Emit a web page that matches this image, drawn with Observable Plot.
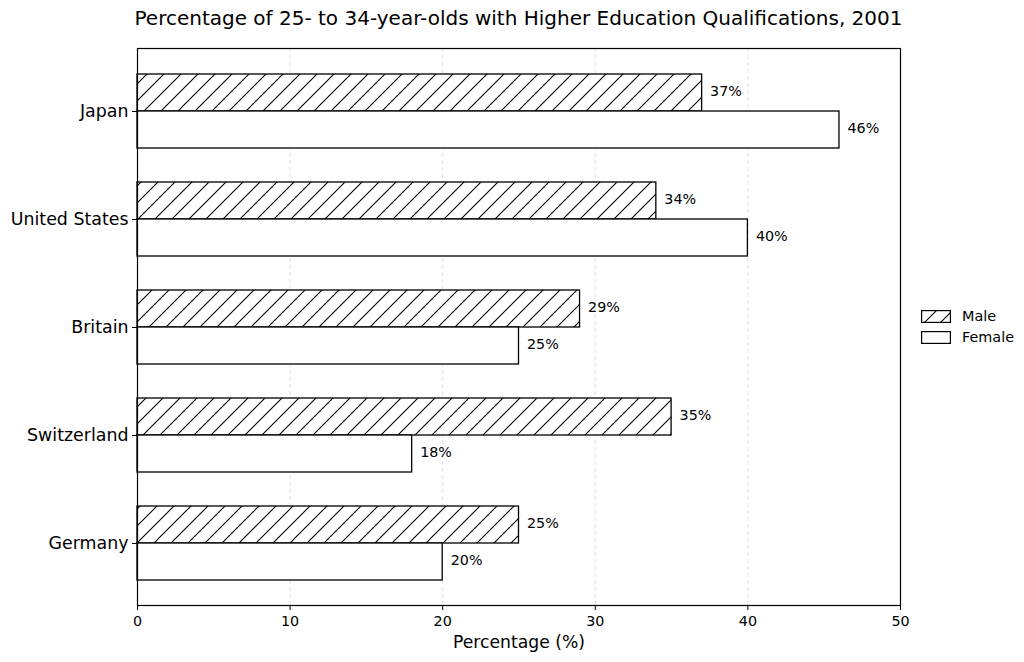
<!DOCTYPE html>
<html><head><meta charset="utf-8">
<script src="https://cdn.jsdelivr.net/npm/d3@7"></script>
<script src="https://cdn.jsdelivr.net/npm/@observablehq/plot@0.6"></script>
<style>
body{margin:0;background:#fff;font-family:"DejaVu Sans",sans-serif;color:#000;}
#wrap{position:relative;width:1024px;height:662px;overflow:hidden;}
#title{position:absolute;left:0;top:6px;width:1037px;text-align:center;font-size:20px;line-height:24px;white-space:nowrap;}
#chart{position:absolute;left:0;top:0;}
.leg{position:absolute;left:921px;font-size:14.4px;line-height:16px;display:flex;align-items:center;}
.leg span{margin-left:11px;}
</style></head><body>
<div id="wrap">
<svg width="0" height="0" style="position:absolute"><defs>
<pattern id="hatch" patternUnits="userSpaceOnUse" width="17" height="17">
<rect width="17" height="17" fill="white"/>
<path d="M0,17L17,0M-4,4L4,-4M13,21L21,13" stroke="black" stroke-width="1.1"/>
</pattern>
<pattern id="hatchL" patternUnits="userSpaceOnUse" width="16" height="16">
<rect width="16" height="16" fill="white"/>
<path d="M0,16L16,0M-4,4L4,-4M12,20L20,12" stroke="black" stroke-width="1.1"/>
</pattern>
</defs></svg>
<div id="chart"></div>
<div id="title">Percentage of 25- to 34-year-olds with Higher Education Qualifications, 2001</div>
<div class="leg" style="top:308px"><svg width="30" height="13"><rect x="0.6" y="0.6" width="28.8" height="11.8" fill="url(#hatchL)" stroke="black" stroke-width="1.2"/></svg><span>Male</span></div>
<div class="leg" style="top:329px"><svg width="30" height="13"><rect x="0.6" y="0.6" width="28.8" height="11.8" fill="white" stroke="black" stroke-width="1.2"/></svg><span>Female</span></div>
</div>
<script>
const countries = ["Japan", "United States", "Britain", "Switzerland", "Germany"];
const maleValues = [37, 34, 29, 35, 25];
const femaleValues = [46, 40, 25, 18, 20];
const xTicks = [0, 10, 20, 30, 40, 50];
const gridTicks = [10, 20, 30, 40];

const maleRows = countries.map((c, i) => ({country: c, value: maleValues[i]}));
const femaleRows = countries.map((c, i) => ({country: c, value: femaleValues[i]}));

const chart = Plot.plot({
  width: 1024,
  height: 662,
  marginLeft: 137,
  marginRight: 124,
  marginTop: 48,
  marginBottom: 57,
  style: {fontFamily: "DejaVu Sans", color: "black", background: "white"},
  x: {domain: [0, 50], label: null},
  y: {domain: countries, paddingInner: 0.317, paddingOuter: 0.23, label: null},
  marks: [
    Plot.gridX(gridTicks, {stroke: "#bbb", strokeOpacity: 0.6, strokeDasharray: "4,3", strokeWidth: 0.8}),
    Plot.barX(maleRows, {x: "value", y: "country", fill: "url(#hatch)", stroke: "black", strokeWidth: 1.3, insetBottom: 37}),
    Plot.barX(femaleRows, {x: "value", y: "country", fill: "white", stroke: "black", strokeWidth: 1.3, insetTop: 37}),
    Plot.text(maleRows, {x: "value", y: "country", text: d => d.value + "%", dx: 8, dy: -20, textAnchor: "start", fontSize: 14.3, fill: "black"}),
    Plot.text(femaleRows, {x: "value", y: "country", text: d => d.value + "%", dx: 8, dy: 17, textAnchor: "start", fontSize: 14.3, fill: "black"}),
    Plot.axisX({ticks: xTicks, tickSize: 5, tickPadding: 5, fontSize: 14.3, label: "Percentage (%)", labelAnchor: "center", labelArrow: "none", labelOffset: 42}),
    Plot.axisY({tickSize: 5, tickPadding: 4, fontSize: 17.4, label: null}),
    Plot.frame({stroke: "black", strokeWidth: 1.2})
  ]
});
document.getElementById("chart").appendChild(chart);
chart.querySelectorAll("text").forEach(t => {
  if (t.textContent === "Percentage (%)") t.setAttribute("font-size", "17.2");
});
</script>
</body></html>
